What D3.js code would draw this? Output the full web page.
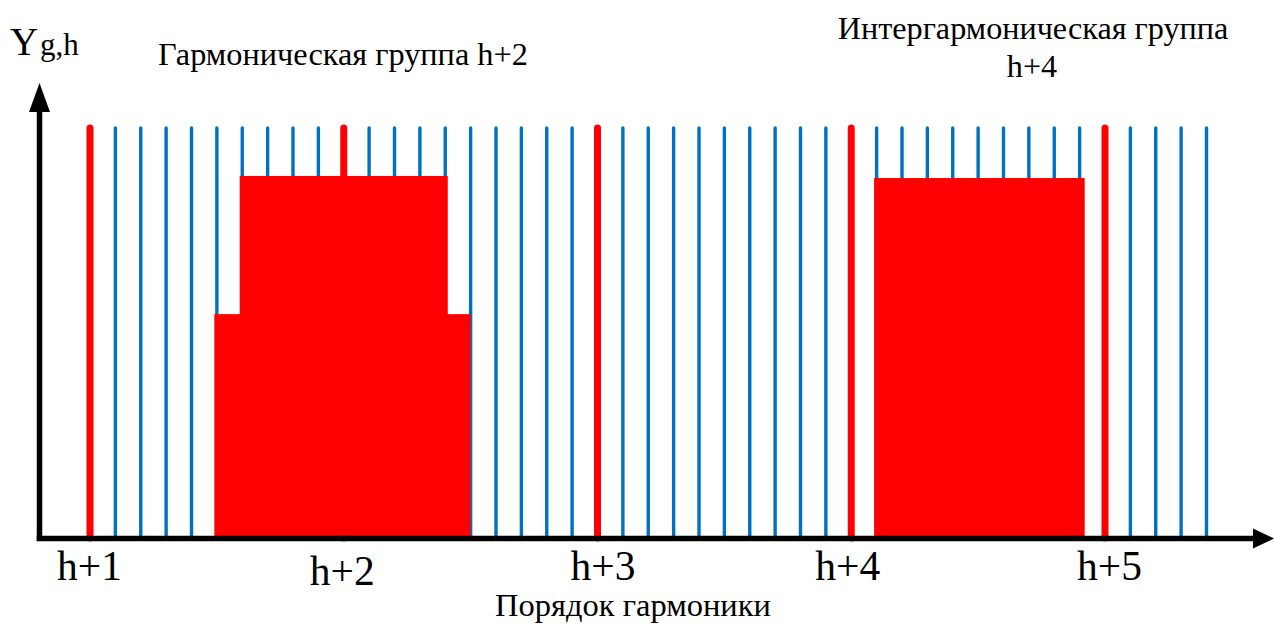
<!DOCTYPE html>
<html><head><meta charset="utf-8">
<script src="https://cdn.jsdelivr.net/npm/d3@7"></script>
<style>
html,body{margin:0;padding:0;background:#fff;}
svg{display:block;}
text{font-family:"Liberation Serif","Times New Roman",serif;fill:#000;}
</style></head>
<body>
<svg id="chart" width="1274" height="625"></svg>
<script>
// ---- data ----
const harmonics = [1, 2, 3, 4, 5];
const tickLabels = ["h+1", "h+2", "h+3", "h+4", "h+5"];
const lineStep = 0.1;            // spectral lines every 0.1 harmonic
const lineRange = [1, 5.4];      // first and last spectral line (harmonic order)
const lineValue = 1.0;           // all spectral lines have equal amplitude
// harmonic group h+2: two stacked blocks [from, to, level]
const harmonicGroupLower = [1.49, 2.5, 0.546];
const harmonicGroupUpper = [1.59, 2.41, 0.883];
// interharmonic group h+4
const interGroup = [4.09, 4.92, 0.878];
const titleHarm = "Гармоническая группа h+2";
const titleInter = ["Интергармоническая группа", "h+4"];
const xTitle = "Порядок гармоники";
const yTitleMain = "Y", yTitleSub = "g,h";

// ---- build ----
const svg = d3.select("#chart");
const x = d3.scaleLinear().domain([1, 5]).range([90, 1105]);
const y = d3.scaleLinear().domain([0, 1]).range([538, 128]);

const lines = [];
const n = Math.round((lineRange[1] - lineRange[0]) / lineStep);
for (let i = 0; i <= n; i++) {
  const h = +(lineRange[0] + i * lineStep).toFixed(2);
  lines.push({h, v: lineValue, harm: Math.abs(h - Math.round(h)) < 1e-6});
}

// blue interharmonic lines
svg.append("g").selectAll("line").data(lines.filter(d => !d.harm)).join("line")
  .attr("x1", d => x(d.h)).attr("x2", d => x(d.h))
  .attr("y1", y(0)).attr("y2", d => y(d.v))
  .attr("stroke", "#0070C0").attr("stroke-width", 3.4).attr("stroke-linecap", "round");

// red harmonic lines
svg.append("g").selectAll("line").data(lines.filter(d => d.harm)).join("line")
  .attr("x1", d => x(d.h)).attr("x2", d => x(d.h))
  .attr("y1", y(0)).attr("y2", d => y(d.v))
  .attr("stroke", "#FF0000").attr("stroke-width", 7).attr("stroke-linecap", "round");

// group blocks
const blocks = [harmonicGroupLower, harmonicGroupUpper, interGroup];
svg.append("g").selectAll("rect").data(blocks).join("rect")
  .attr("x", d => x(d[0])).attr("width", d => x(d[1]) - x(d[0]))
  .attr("y", d => y(d[2])).attr("height", d => y(0) - y(d[2]))
  .attr("fill", "#FF0000");

// axes
const ax = svg.append("g");
const y0 = y(0) + 0.5, x0 = 39.5;
ax.append("line").attr("x1", x0).attr("x2", x0).attr("y1", y0 + 2.5).attr("y2", 110)
  .attr("stroke", "#000").attr("stroke-width", 5.5);
ax.append("path").attr("d", `M${x0},83 L${x0 - 10.5},112 L${x0 + 10.5},112 Z`).attr("fill", "#000");
ax.append("line").attr("x1", x0 - 2.75).attr("x2", 1256).attr("y1", y0).attr("y2", y0)
  .attr("stroke", "#000").attr("stroke-width", 5.5);
ax.append("path").attr("d", `M1274,${y0} L1253,${y0 - 10} L1253,${y0 + 10} Z`).attr("fill", "#000");

// tick labels via d3 axis
const labelDx = [-1, -2, 5, -4, 4];
const xAxis = d3.axisBottom(x).tickValues(harmonics).tickSize(0)
  .tickFormat((d, i) => tickLabels[i]);
const gx = svg.append("g").call(xAxis);
gx.select(".domain").remove();
gx.selectAll("text")
  .attr("y", (d) => d === 2 ? 585 : 580).attr("dy", null)
  .attr("dx", (d, i) => labelDx[i])
  .style("font-family", '"Liberation Serif", serif')
  .style("font-size", "41.5px").attr("fill", "#000");

// titles
svg.append("text").attr("x", 10).attr("y", 55).style("font-size", "39px").text(yTitleMain);
svg.append("text").attr("x", 40).attr("y", 55).style("font-size", "31px").text(yTitleSub);
svg.append("text").attr("x", 158).attr("y", 65).style("font-size", "32.3px").text(titleHarm);
svg.append("text").attr("x", 1033).attr("y", 39).attr("text-anchor", "middle").style("font-size", "32.2px").text(titleInter[0]);
svg.append("text").attr("x", 1032).attr("y", 77).attr("text-anchor", "middle").style("font-size", "32.2px").text(titleInter[1]);
svg.append("text").attr("x", 633).attr("y", 616).attr("text-anchor", "middle").style("font-size", "32.5px").text(xTitle);
</script>
</body></html>
